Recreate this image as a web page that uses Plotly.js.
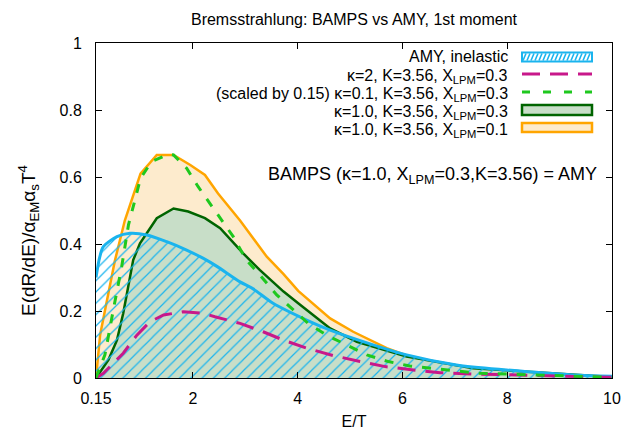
<!DOCTYPE html>
<html>
<head>
<meta charset="utf-8">
<script src="https://cdn.plot.ly/plotly-3.0.1.min.js"></script>
<style>html,body{margin:0;padding:0;background:#fff;}#chart{width:626px;height:430px;}</style>
</head>
<body>
<div id="chart"></div>
<script>
// ---- data ----
const E_amy = [0.15, 0.22, 0.29, 0.55, 0.80, 1.12, 1.50, 1.88, 2.20, 2.45, 2.90, 3.15, 3.53, 4.17, 4.62, 5.44, 6.08, 7.03, 7.99, 9.26, 10];
const amy   = [0.30, 0.36, 0.392, 0.422, 0.432, 0.427, 0.407, 0.382, 0.357, 0.334, 0.287, 0.266, 0.223, 0.173, 0.143, 0.099, 0.069, 0.039, 0.024, 0.009, 0.005];

const E_k2 = [0.15, 0.29, 0.67, 0.93, 1.18, 1.44, 1.82, 2.20, 2.42, 2.90, 3.34, 3.73, 4.17, 4.68, 5.19, 5.67, 6.21, 6.72, 7.35, 9.26, 10];
const k2   = [0, 0.014, 0.074, 0.128, 0.168, 0.188, 0.198, 0.193, 0.183, 0.163, 0.138, 0.113, 0.089, 0.067, 0.049, 0.034, 0.024, 0.016, 0.012, 0.004, 0.002];

const E_k01 = [0.15, 0.32, 0.48, 0.64, 0.77, 1.00, 1.21, 1.53, 1.63, 1.88, 2.10, 2.33, 2.77, 3.02, 3.28, 3.60, 4.20, 4.55, 4.94, 5.32, 5.73, 6.14, 6.56, 7.48, 10];
const k01   = [0, 0.069, 0.203, 0.332, 0.457, 0.596, 0.646, 0.668, 0.666, 0.626, 0.571, 0.519, 0.422, 0.352, 0.307, 0.248, 0.163, 0.128, 0.097, 0.069, 0.049, 0.036, 0.029, 0.014, 0.002];

const E_x03 = [0.15, 0.39, 0.55, 0.67, 0.86, 0.99, 1.31, 1.63, 1.91, 2.23, 2.52, 2.96, 3.28, 3.73, 4.01, 4.62, 5.13, 6.08, 7.35, 10];
const x03   = [0, 0.055, 0.113, 0.193, 0.352, 0.402, 0.477, 0.506, 0.497, 0.477, 0.447, 0.372, 0.322, 0.258, 0.223, 0.148, 0.108, 0.064, 0.029, 0.003];

const E_x01 = [0.15, 0.23, 0.51, 0.70, 1.00, 1.31, 1.63, 1.95, 2.23, 2.48, 2.90, 3.41, 3.73, 4.01, 4.62, 5.06, 5.70, 6.46, 7.99, 10];
const x01   = [0, 0.13, 0.35, 0.47, 0.61, 0.666, 0.666, 0.636, 0.606, 0.551, 0.47, 0.362, 0.31, 0.26, 0.178, 0.138, 0.089, 0.046, 0.014, 0.003];

const xTicks = [0.15, 2, 4, 6, 8, 10];
const xTickText = ['0.15', '2', '4', '6', '8', '10'];
const yTicks = [0, 0.2, 0.4, 0.6, 0.8, 1];
const yTickText = ['0', '0.2', '0.4', '0.6', '0.8', '1'];

const legendLabels = [
  'AMY, inelastic',
  'κ=2, K=3.56, X<sub>LPM</sub>=0.3',
  '(scaled by 0.15) κ=0.1, K=3.56, X<sub>LPM</sub>=0.3',
  'κ=1.0, K=3.56, X<sub>LPM</sub>=0.3',
  'κ=1.0, K=3.56, X<sub>LPM</sub>=0.1'
];

// ---- styles ----
const C_BLUE = '#1ab4ee', C_MAG = '#c8188a', C_GRN = '#1ec81e', C_DGRN = '#006400', C_ORG = '#ffa500';
const F_GRN = '#c8dec8', F_ORG = '#fdebcd';
const FONT = 'Liberation Sans, Arial, sans-serif';

// plot area in pixels
const L = 96, R = 612, T = 43, B = 378;
const px = p => (p - L) / (R - L);
const py = p => (B - p) / (B - T);

const traces = [
  {x: E_x01, y: x01, mode: 'lines', fill: 'tozeroy', fillcolor: F_ORG, line: {color: C_ORG, width: 2.5}, showlegend: false},
  {x: E_x03, y: x03, mode: 'lines', fill: 'tozeroy', fillcolor: F_GRN, line: {color: C_DGRN, width: 2.5}, showlegend: false},
  {x: E_amy, y: amy, mode: 'lines', fill: 'tozeroy', fillcolor: 'rgba(0,0,0,0)',
   fillpattern: {shape: '/', fgcolor: C_BLUE, size: 8, solidity: 0.15},
   line: {color: C_BLUE, width: 3, shape: 'spline', smoothing: 0.8}, showlegend: false},
  {x: E_k2, y: k2, mode: 'lines', line: {color: C_MAG, width: 3, dash: '18px,10px'}, showlegend: false},
  {x: E_k01, y: k01, mode: 'lines', line: {color: C_GRN, width: 3, dash: '9px,10px'}, showlegend: false}
];

// ---- custom gnuplot-style key ----
const rowY = [56.5, 74, 92, 110, 128];      // centre of the key sample in each row
const textY = [56.5, 76, 94, 112, 130];     // annotation box centre (boxes with subscripts sit lower)
const sx0 = 522, sx1 = 592;
const annotations = legendLabels.map((t, i) => ({
  xref: 'paper', yref: 'paper', x: px(510), y: py(textY[i]), xanchor: 'right', yanchor: 'middle',
  text: t, showarrow: false, font: {family: FONT, size: 16, color: '#000'}
}));
annotations.push({
  xref: 'paper', yref: 'paper', x: px(599), y: py(175), xanchor: 'right', yanchor: 'middle',
  text: 'BAMPS (κ=1.0, X<sub>LPM</sub>=0.3,K=3.56) = AMY', showarrow: false,
  font: {family: FONT, size: 18, color: '#000'}
});
annotations.push({
  xref: 'paper', yref: 'paper', x: px(28), y: py(241), xanchor: 'center', yanchor: 'middle', textangle: -90,
  text: 'E(dR/dE)/α<sub>EM</sub>α<sub>s</sub>T<sup>4</sup>', showarrow: false,
  font: {family: FONT, size: 19, color: '#000'}
});

const shapes = [];
// AMY sample: hatched box
shapes.push({type: 'rect', xref: 'paper', yref: 'paper', x0: px(sx0), x1: px(sx1), y0: py(61.5), y1: py(52.5),
  line: {color: C_BLUE, width: 2}, fillcolor: '#fff'});
for (let xx = sx0 + 1; xx < sx1 - 3; xx += 4) {
  shapes.push({type: 'line', xref: 'paper', yref: 'paper', x0: px(xx), y0: py(60.5), x1: px(xx + 3), y1: py(53.5),
    line: {color: C_BLUE, width: 1.6}});
}
shapes.push({type: 'line', xref: 'paper', yref: 'paper', x0: px(sx0), x1: px(sx1), y0: py(rowY[1]), y1: py(rowY[1]),
  line: {color: C_MAG, width: 3, dash: '18px,10px'}});
shapes.push({type: 'line', xref: 'paper', yref: 'paper', x0: px(sx0), x1: px(sx1), y0: py(rowY[2]), y1: py(rowY[2]),
  line: {color: C_GRN, width: 3, dash: '8px,13px'}});
shapes.push({type: 'rect', xref: 'paper', yref: 'paper', x0: px(sx0), x1: px(sx1), y0: py(115), y1: py(105),
  line: {color: C_DGRN, width: 2.5}, fillcolor: F_GRN});
shapes.push({type: 'rect', xref: 'paper', yref: 'paper', x0: px(sx0), x1: px(sx1), y0: py(132), y1: py(123),
  line: {color: C_ORG, width: 2.5}, fillcolor: F_ORG});

const axisCommon = {
  showgrid: false, zeroline: false, showline: true, linecolor: '#000', linewidth: 1,
  mirror: 'ticks', ticks: 'inside', ticklen: 6, tickcolor: '#000', tickwidth: 1,
  tickfont: {family: FONT, size: 16, color: '#000'}, tickmode: 'array'
};

const layout = {
  width: 626, height: 430,
  margin: {l: L, r: 626 - R, t: T, b: 430 - B, autoexpand: false},
  paper_bgcolor: '#fff', plot_bgcolor: '#fff',
  font: {family: FONT, size: 16, color: '#000'},
  title: {text: 'Bremsstrahlung: BAMPS vs AMY, 1st moment', font: {family: FONT, size: 16, color: '#000'},
    xref: 'paper', x: 0.5, xanchor: 'center', yref: 'container', y: 1 - 19 / 430, yanchor: 'middle'},
  xaxis: Object.assign({}, axisCommon, {range: [0.15, 10], tickvals: xTicks, ticktext: xTickText,
    ticklabelstandoff: 6,
    title: {text: 'E/T', font: {family: FONT, size: 16, color: '#000'}, standoff: 13}}),
  yaxis: Object.assign({}, axisCommon, {range: [0, 1], tickvals: yTicks, ticktext: yTickText,
    ticklabelstandoff: 10}),
  showlegend: false,
  annotations: annotations,
  shapes: shapes
};

Plotly.newPlot('chart', traces, layout, {displayModeBar: false, staticPlot: true});
</script>
</body>
</html>
